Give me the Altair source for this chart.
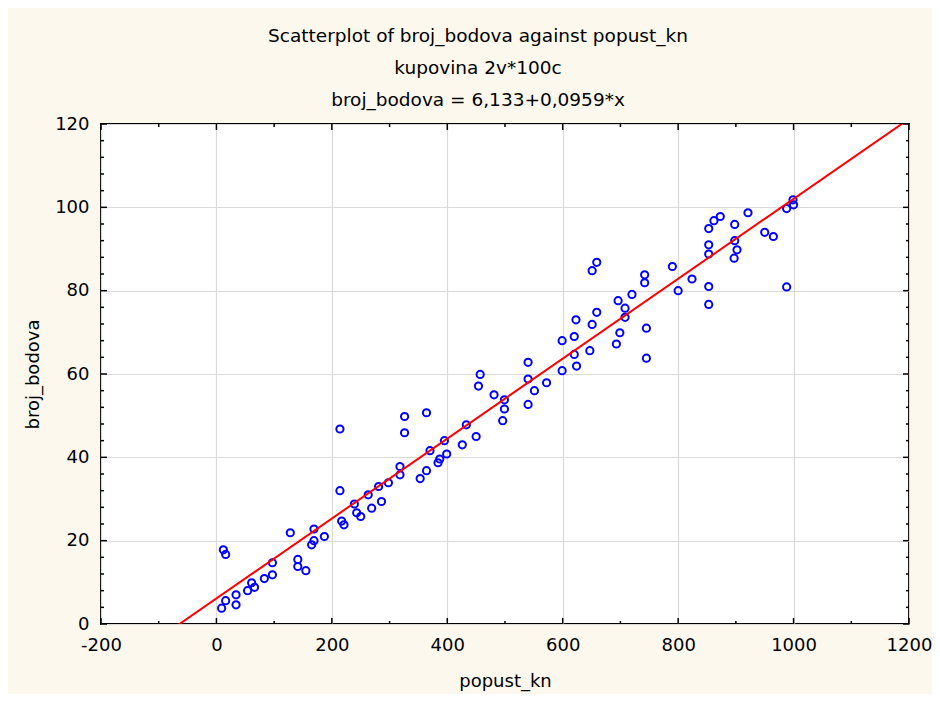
import altair as alt
import pandas as pd

# ---- data ----
popust_kn = [
    12, 16, 9, 16, 34, 34, 54, 61, 66, 83, 97, 97, 128, 141, 141, 155, 165, 169, 169, 187,
    217, 221, 239, 243, 250, 269, 286,
    214, 214, 263, 281, 298, 318, 318, 326, 326, 353, 364, 364, 370, 384, 387, 395, 399, 426, 433, 450, 454,
    457, 481, 499, 499, 496, 540, 540, 540, 551, 572, 599, 599, 620, 620, 624, 647, 699, 693,
    659, 651, 623, 659, 651, 696, 708, 708, 720, 742, 742, 745, 745, 790, 800, 824, 853, 853, 853, 853, 902, 897,
    853, 862, 873, 898, 898, 921, 950, 965, 988, 999, 1000, 988,
]
broj_bodova = [
    17.8, 16.7, 3.8, 5.6, 7.0, 4.6, 8.0, 9.9, 8.8, 10.9, 11.8, 14.7, 21.9, 15.5, 13.8, 12.8, 19.0, 20.0, 22.8, 21.0,
    24.7, 23.8, 28.8, 26.7, 25.8, 27.8, 29.4,
    46.8, 32.0, 31.0, 33.0, 33.9, 37.8, 35.8, 49.8, 45.9, 34.9, 50.7, 36.8, 41.6, 38.7, 39.6, 44.0, 40.8, 43.0, 47.8, 45.0, 57.1,
    59.9, 55.0, 53.8, 51.6, 48.8, 62.8, 58.8, 52.7, 56.0, 57.9, 68.0, 60.8, 69.0, 64.7, 61.9, 65.6, 69.9, 67.2,
    86.8, 84.8, 73.0, 74.8, 71.9, 77.6, 75.8, 73.6, 79.1, 83.8, 81.9, 71.0, 63.8, 85.8, 80.0, 82.8, 91.0, 88.8, 81.0, 76.7, 89.8, 87.8,
    94.9, 96.8, 97.8, 95.9, 92.0, 98.7, 94.0, 93.0, 99.7, 101.8, 100.6, 80.9,
]
intercept = 6.133
slope = 0.0959
line_x = [-200, 1200]

x_major = [-200, 0, 200, 400, 600, 800, 1000, 1200]
x_minor = [-100, 100, 300, 500, 700, 900, 1100]
y_major = [0, 20, 40, 60, 80, 100, 120]
y_minor = [v for v in range(0, 121, 4) if v % 20]

titles = [
    "Scatterplot of broj_bodova against popust_kn",
    "kupovina 2v*100c",
    "broj_bodova = 6,133+0,0959*x",
]

# ---- build ----
W, H = 808, 500
FONT = "DejaVu Sans"
BG = "#fcf8ee"
XF, YF = "popust_kn", "broj_bodova"
LBL = "datum.value < 0 ? '-' + abs(datum.value) : datum.label"

pts = pd.DataFrame({XF: popust_kn, YF: broj_bodova})
line_df = pd.DataFrame({XF: line_x, YF: [intercept + slope * v for v in line_x]})

xscale = alt.Scale(domain=[-200, 1200], nice=False, zero=False)
yscale = alt.Scale(domain=[0, 120], nice=False, zero=False)

xaxis = alt.Axis(values=x_major, title="popust_kn", grid=True, gridColor="#dadada",
                 gridWidth=1.2, domain=False, ticks=False, tickSize=0, labelFlush=False,
                 labelOverlap=False, labelPadding=12, titlePadding=18, format="d", labelExpr=LBL)
yaxis = alt.Axis(values=y_major, title="broj_bodova", grid=True, gridColor="#dadada",
                 gridWidth=1.2, domain=False, ticks=False, tickSize=0, labelFlush=False,
                 labelOverlap=False, labelPadding=12, titlePadding=12, format="d")

points = alt.Chart(pts).mark_point(
    shape="circle", filled=False, color="#0000ff", size=52, strokeWidth=2, opacity=1
).encode(
    x=alt.X(f"{XF}:Q", scale=xscale, axis=xaxis),
    y=alt.Y(f"{YF}:Q", scale=yscale, axis=yaxis),
)

reg = alt.Chart(line_df).mark_line(color="#ff0000", strokeWidth=2, clip=True).encode(
    x=alt.X(f"{XF}:Q", scale=xscale, axis=xaxis),
    y=alt.Y(f"{YF}:Q", scale=yscale, axis=yaxis),
)


def xticks(vals, length, top):
    d = pd.DataFrame({XF: vals})
    y0 = 0 if top else H
    y1 = length if top else H - length
    return alt.Chart(d).mark_rule(color="black", strokeWidth=1.5).encode(
        x=alt.X(f"{XF}:Q", scale=xscale, axis=xaxis), y=alt.value(y0), y2=alt.value(y1))


def yticks(vals, length, right):
    d = pd.DataFrame({YF: vals})
    x0 = W if right else 0
    x1 = W - length if right else length
    return alt.Chart(d).mark_rule(color="black", strokeWidth=1.5).encode(
        y=alt.Y(f"{YF}:Q", scale=yscale, axis=yaxis), x=alt.value(x0), x2=alt.value(x1))


ticks = [
    xticks(x_major, 6, False), xticks(x_minor, 3, False),
    xticks(x_major, 6, True), xticks(x_minor, 3, True),
    yticks(y_major, 6, False), yticks(y_minor, 3, False),
    yticks(y_major, 6, True), yticks(y_minor, 3, True),
]

chart = alt.layer(points, reg, *ticks).properties(
    width=W, height=H,
    background=BG,
    autosize=alt.AutoSizeParams(type="none"),
    padding={"left": 93, "top": 116, "right": 23, "bottom": 70},
    title=alt.Title(text=titles, font=FONT, fontSize=18.5, fontWeight="normal", color="black",
                    lineHeight=32, anchor="middle", dx=-27, offset=6),
).configure_view(
    fill="white", stroke="black", strokeWidth=2
).configure_axis(
    labelFont=FONT, titleFont=FONT, labelFontSize=18, titleFontSize=18,
    labelColor="black", titleColor="black", titleFontWeight="normal",
)

chart.save("out.html", embed_options={"renderer": "svg", "actions": False})
